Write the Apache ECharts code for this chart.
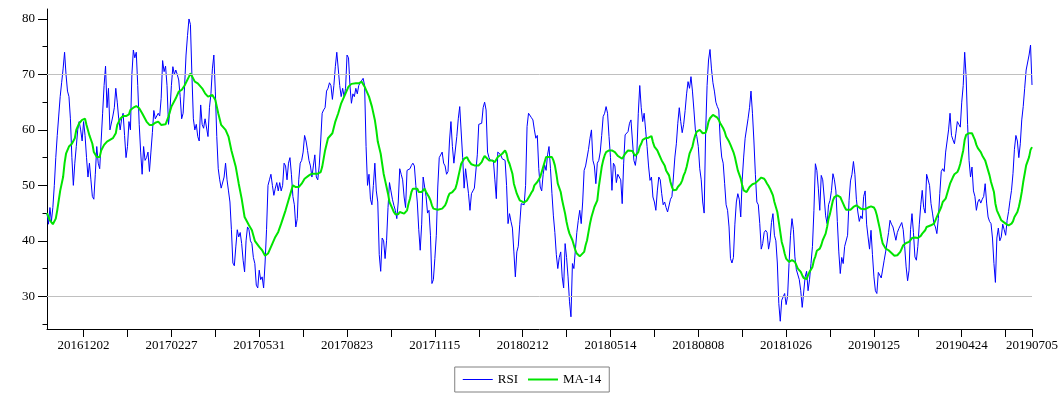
<!DOCTYPE html>
<html><head><meta charset="utf-8">
<script src="https://cdn.jsdelivr.net/npm/echarts@6/dist/echarts.min.js"></script>
<style>html,body{margin:0;padding:0;background:#fff}#c{width:1064px;height:400px}</style>
</head><body><div id="c"></div>
<script>
// RSI daily values, index 0..673
const rsi = [
45,43,46,43.5,46,50,55,59,62.5,66, 68.5,71,74,70,67,66,62,55,50,54, 57,60,61.5,60,58,61.5,59,55,51.5,54, 51,48,47.5,52,57,54,53,58,63,68, 71.5,64,67.5,60,60,62.5,64,67.5,65,62, 60,62,63,59,55,57,61.5,60,70,74.4, 73,74,68,61,56,52,57,54.5,55,56, 52.5,56,59.5,63.5,62,
62,63,62.5,65.7,72.5,70.5,71.5,68,61,63.5, 68,71.4,70,70.8,70,69,66,62,63,67.8, 73.5,77,80,79,70,62,60,61,58.8,58, 64.5,61,60.3,62,62,58.8,64,66.5,71,73.5, 67,58.8,53,51,49.5,49.5,51.5,54,51,49, 47,42,36,35.5,38.9,42,40.7,41.5,39.5,36.5, 34.4,40,42.5,42,40,39.5,37,35.9,32,31.5, 34.7,33,33.5,31.5,36,
42,50,51,52,50,48.2,49.5,50.5,49,50.5, 49,50,54,53.5,51,54,55,52,48,46.5, 42.5,44,51,54,54.5,56,59,58,56.3,54.5, 53.5,51.5,53.5,55.5,51.5,51,53.5,58,63,63.6, 64,67,67.5,68.5,68,65.5,68,71.4,74,74, 68,66,67.5,66,67.5,73.5,73,68,64.8,66.5, 66,67.5,66.5,68,68.5,68.5,69.3,68,57,50, 52,47.5,46.5,50,54,
49,47,37.5,34.5,40.5,40,36.8,40,46,50.5, 49,47.5,46.4,45.5,44,47,53,52,51,47.9, 46,52.7,53,53,53.6,54,53.5,50,47,42, 38.3,43,51.5,51.5,48,45,45.5,41,32.3,33, 36.8,41,49.7,55,55,56,54,53.5,52,52.5, 58,61.5,57,54,54,58.8,62,64.2,64.5,55, 49.5,53,53,48.5,45.5,48.5,49,49.5,49.7,55.5, 61,61.2,61.2,64,65,
63.6,56,55,54.5,54.8,54.5,51,47.6,56,56, 55.5,54.8,54.5,54.5,50,43.1,44.9,43.5,42.3,38, 33.5,38,39,43,46.7,47,46.5,50,60.6,63, 63.3,62.2,61.8,60,58.5,59,53,49.7,49,52, 53.7,52.7,55.5,57,53,48.5,44.5,41.5,37.5,35, 37,38,33.5,31.5,39.5,37,33.5,29,26.3,35.9, 35,38.3,41.5,43.7,45.5,43.1,47,52.7,53.5,53.7, 56.5,58.5,60,54.5,53.5,
50.3,54,54.5,56,59,62.4,63,64.2,63,58.8, 55,49.1,54,53.5,50.5,52,52,51,46.7,54, 59.1,58.8,59.7,61.2,61.8,58,54.5,53.6,55.7,63, 68,64,61.5,63,60,57,53.5,50.9,51.5,47.9, 47,45.5,49,51.5,51,48.5,46.5,47,46,45.2, 45.5,47.5,48,51.5,55.1,57.5,61.2,64,61.5,59.5, 61,63.5,66.5,68.7,67.5,69.6,67,63.6,60,58.8, 57,53,51,47,45,
59.4,68,72.6,74.5,71,68.5,67,65,64.2,63.6, 58,55.1,54,50.3,46.5,45.5,42.5,36.8,36,37, 43,47,48.5,47.5,44.3,51,55.1,58.5,58.8,62, 64,67,63,58,52,47,46.5,43.1,38.5,39.5, 41.5,41.9,41.5,38.5,40,43.3,44.9,41,40,36, 28.7,25.5,29.3,29,30.5,28.5,30,35.9,41,44, 42,37.1,34.8,35,33,31,28,28,33.5,34.5, 31,33,35.9,39,45.5,
53.9,52.7,49.5,45.5,51.8,51,47.9,44.5,43.1,46.5, 47.3,49.1,52.1,51,49,43.5,38,34.1,37,35.9, 39,39,41,47.3,50.8,52,54.3,52,47.5,45.2, 43.5,44.5,44,48,49,43,40.7,38.5,41.9,37.5, 33.5,31,30.5,34.3,34,33.3,33.5,36.5,38,38.3, 41.5,43.7,43,42.5,42.5,40.1,41.5,42.2,42.5,43.3, 42,39,35.3,32.8,34.7,42,44.9,41.5,37.1,36.5, 39,43,46.5,49.1,46,
45,52,52,50,46.7,45,43.1,42.5,41.3,44, 48.5,52.5,53,52.5,56,58,60,63,59,58.2, 57.5,59.4,61.5,61,60.5,65,68,74,69.6,61, 54.5,51.5,53.3,49,48,45.5,47,47.5,46.8,47.5, 48,50.3,46.8,44.3,43.5,43.1,40.5,35.9,32.5,40.5, 42.3,40,40.7,43,42,41,43.7,45.3,47.3,49.1, 52.1,56.5,59,58,55,57.5,61.8,64.2,67.5,70.8, 71,73.5,75.3,68.1
];
// MA-14 readings as [index, value]
const ma14 = [
[0,45],[2,43.7],[4,43],[6,44],[7,45.5],[9,49],[11,51.5],[12,54],[13,55.7],[15,57],[17,57.5],[19,58.5],[20,60],[22,61.2],[24,61.8],[26,62],[27,60.9],[29,59],[31,57.5],[32,56],[34,55.1],[36,55.1],[37,56.3],[39,57.3],[41,57.9],[43,58.2],[45,58.5],[47,59.4],[48,60.9],[50,62],[52,62.5],[54,62.5],[56,62.8],[57,63.6],[59,64],[61,64.3],[63,63.9],[65,63],[67,62],[68,61.5],[70,60.9],[72,60.9],[74,61.3],
[76,61.5],[78,60.9],[81,61],[83,62.4],[85,64.2],[88,65.7],[90,66.9],[92,67.2],[94,68],[97,69.6],[98,70.2],[99,69.9],[101,68.7],[103,68.4],[106,67.5],[108,66.6],[110,66],[113,66.3],[115,65.4],[117,63],[119,60.9],[122,60],[124,58.8],[126,56.3],[129,53.3],[131,50.3],[133,47.6],[135,44.3],[138,42.8],[140,41.9],[142,40],[145,38.9],[147,38.3],[149,37.3],
[150,37],[151,37.7],[154,39.5],[156,40.7],[158,41.6],[160,43.1],[163,45.5],[165,47.3],[167,49.1],[168,50],[170,49.7],[172,49.7],[174,50.3],[176,51.2],[179,51.8],[181,52.1],[183,52.1],[185,52.1],[187,52.4],[188,53.3],[190,56.3],[192,58.5],[195,59.4],[197,61.5],[199,63],[201,64.8],[204,66.6],[206,67.8],[208,68.3],[211,68.4],[213,68.4],[215,68.7],[216,68.5],[217,67.8],[220,66],[222,64.2],[224,61.8],
[225,60],[226,57.9],[228,55.7],[229,53.9],[230,52.1],[231,50.9],[232,49.7],[233,48.5],[234,47],[236,45.8],[237,45.2],[238,44.8],[239,44.6],[240,44.8],[241,45.2],[242,45.2],[244,44.9],[245,44.9],[246,45.5],[247,46.7],[248,47.6],[249,48.8],[250,49.4],[251,49.7],[253,49.4],[254,48.8],[255,48.5],[256,48.8],[257,49.1],[258,49.4],[259,48.8],[261,47.9],[262,47.3],[263,46.4],[264,45.8],[265,45.5],[267,45.6],[270,45.8],[272,46.4],[273,47],[274,47.9],[275,48.5],[277,48.8],[278,49.1],[279,49.4],[280,50.3],[281,51.5],[282,52.7],[283,53.9],[285,54.8],[286,55.1],[287,55.1],[288,54.5],[289,54.2],[290,53.8],[292,53.6],[295,53.6],[296,53.9],[297,54.2],[298,54.8],[299,55.3],
[300,55.4],[302,54.5],[304,54.5],[306,54.2],[308,55.1],[311,55.7],[313,56.3],[314,55.7],[315,54.5],[316,53.9],[318,52.1],[319,50.3],[320,49.4],[321,48.5],[322,47.9],[323,47.3],[324,47],[326,46.9],[327,47],[328,47.3],[329,47.6],[330,48.2],[331,48.7],[332,49.1],[333,50],[335,50.6],[336,50.9],[337,51.5],[338,52.4],[339,53.3],[340,54.2],[341,55.1],[343,55.1],[344,55.3],[345,55.1],[346,54.5],[347,53.6],[348,52.1],[349,50.3],[351,48.8],[352,47.3],[353,46.1],[354,44.9],[355,43.4],[356,42.2],[357,41.3],[359,40.1],[360,39.2],[361,38.3],[362,37.7],[363,37.4],[364,37.2],[365,37.4],[367,38],[368,39.2],[369,40.1],[370,41.6],[371,43.1],[372,44.3],[373,45.2],[374,46.1],
[376,47.3],[377,49.7],[378,51.5],[379,53.3],[380,54.5],[381,55.4],[382,56],[384,56.3],[386,56.3],[388,56],[389,55.7],[390,55.3],[393,54.8],[394,55.1],[395,55.7],[396,56],[397,56.3],[398,56.4],[400,56.2],[401,55.7],[402,55.3],[403,55.1],[404,56],[405,57],[406,57.5],[407,58.2],[409,58.5],[411,58.6],[412,58.8],[413,58.9],[414,57.8],[415,57],[417,56.3],[418,55.7],[419,55.1],[420,54.5],[421,54.2],[422,53.6],[423,52.7],[425,51.8],[426,50.6],[427,49.7],[428,49.1],[429,49.1],[430,49.2],[431,49.7],[433,50.3],[434,50.9],[435,51.8],[436,52.4],[437,53.3],[438,54.5],[439,55.7],[441,57],[442,58.2],[443,59.1],[444,59.7],[445,60],[446,60],[447,59.7],[448,59.4],
[450,59.5],[451,60.3],[452,61.5],[453,62.1],[454,62.4],[455,62.7],[456,62.6],[458,62.2],[459,61.8],[460,61.2],[461,60.9],[462,60.3],[463,59.7],[464,58.8],[466,57.9],[467,57.3],[468,57],[469,56],[470,55.1],[471,53.9],[472,52.7],[474,51.2],[475,50],[476,49.1],[477,48.8],[478,48.8],[479,49.1],[480,49.7],[482,50.2],[483,50.3],[484,50.4],[485,50.6],[486,50.9],[487,51.2],[488,51.4],[490,51.2],[491,50.8],[492,50.3],[493,49.9],[494,49.4],[495,48.8],[496,48.2],[497,47],[499,45.2],[500,43.4],[501,41.6],[502,39.8],[503,38.9],[504,37.7],[505,36.8],[507,36.2],[508,36.3],[509,36.5],[510,36.4],[511,36.2],[512,35.6],[513,35],[515,34.4],[516,33.8],[517,33.3],[518,33],[519,33.1],[520,33.8],[521,34.4],[523,35.3],[524,36.5],
[525,37.2],[526,38.2],[527,38.3],[528,38.6],[529,39.2],[530,40.1],[532,41.3],[533,42.5],[534,44],[535,44.9],[536,46.1],[537,47.3],[538,47.9],[540,48.2],[541,48.2],[542,47.9],[543,47.3],[544,46.7],[545,46.1],[546,45.6],[549,45.6],[550,45.8],[551,46.1],[552,46.4],[553,46.4],[554,46.1],[556,45.8],[557,45.6],[559,45.7],[560,45.8],[561,46],[562,46.2],[563,46.2],[565,46],[566,45.5],[567,44.6],[568,43.4],[569,42.2],[570,40.7],[571,39.5],[573,38.6],[574,38.4],[575,38.3],[576,38.2],[577,37.8],[578,37.5],[579,37.3],[581,37.4],[582,37.7],[583,38],[584,38.6],[585,39.2],[586,39.5],[587,39.6],[589,39.8],[590,40.1],[591,40.5],[592,40.7],[593,40.6],[594,40.4],[595,40.5],[597,40.9],[598,41.3],[599,41.6],
[600,41.9],[601,42.5],[602,42.8],[604,42.8],[606,43.1],[607,43.7],[608,44.3],[609,44.9],[610,45.5],[611,46.1],[612,47],[614,47.6],[615,48.5],[616,49.4],[617,50.3],[618,50.9],[619,51.5],[620,52],[622,52.4],[623,53],[624,53.9],[625,55.1],[626,56.3],[627,58.2],[628,59.1],[630,59.4],[631,59.5],[632,59.4],[633,58.8],[634,58.2],[635,57.3],[636,56.7],[638,56],[639,55.4],[640,55.1],[641,54.5],[642,53.6],[643,52.7],[644,51.8],[645,50.6],[647,48.8],[648,46.7],[649,45.5],[650,44.9],[651,44.3],[652,43.7],[653,43.4],[655,43.1],[656,42.9],[657,42.8],[658,42.8],[659,43.1],[660,43.5],[661,44.3],[663,45.2],[664,46.1],[665,47.3],[666,48.8],[667,50.6],[668,52.1],[669,53.6],[671,55.1],[672,56.4],[673,56.9]
];
const tickLabels = ['20161202','20170227','20170531','20170823','20171115','20180212','20180514','20180808','20181026','20190125','20190424','20190705'];
const labelIdx = [25,85,145,205,265,325,385,445,505,565,625,673];
const minorTickIdx = [55,115,175,235,295,355,415,475,535,595,655];
const yLabelValues = [30,40,50,60,70,80];
const yMinorValues = [25,35,45,55,65,75];
const refLevels = [30,70];

const categories = rsi.map((_, i) => String(i));
const labelMap = new Map(labelIdx.map((k, j) => [k, tickLabels[j]]));
const tickSet = new Set(labelIdx.concat(minorTickIdx));
const FONT = 'Liberation Serif';
const Y_MIN = 24.1, Y_MAX = 81.8;

const chart = echarts.init(document.getElementById('c'), null, {renderer: 'canvas'});
chart.setOption({
  animation: false,
  backgroundColor: '#fff',
  grid: {left: 47, right: 32, top: 9, bottom: 71},
  legend: {
    data: [
      {name: 'RSI', icon: 'path://M0,0h30v1h-30z'},
      {name: 'MA-14', icon: 'path://M0,0h30v2h-30z'}
    ],
    symbolKeepAspect: true,
    bottom: 8, left: 'center',
    borderColor: '#808080', borderWidth: 1,
    padding: [6, 8], itemGap: 10, itemWidth: 30, itemHeight: 14,
    textStyle: {fontFamily: FONT, fontSize: 13, color: '#000'}
  },
  xAxis: {
    type: 'category', data: categories, boundaryGap: false,
    axisLine: {lineStyle: {color: '#000', width: 1}},
    axisTick: {length: 8, lineStyle: {color: '#000'}, interval: (i) => tickSet.has(i)},
    axisLabel: {
      interval: (i) => labelMap.has(i),
      formatter: (v) => labelMap.get(Number(v)) || '',
      fontFamily: FONT, fontSize: 13, color: '#000', margin: 10, hideOverlap: false
    },
    splitLine: {show: false}
  },
  yAxis: [
    {
      type: 'value', min: Y_MIN, max: Y_MAX, position: 'left',
      axisLine: {show: true, lineStyle: {color: '#000', width: 1}},
      axisTick: {show: true, length: 9, lineStyle: {color: '#000'}, customValues: yLabelValues},
      axisLabel: {customValues: yLabelValues, fontFamily: FONT, fontSize: 13, color: '#000', margin: 12},
      splitLine: {show: false}
    },
    {
      type: 'value', min: Y_MIN, max: Y_MAX, position: 'left',
      axisLine: {show: false},
      axisTick: {show: true, length: 4.5, lineStyle: {color: '#000'}, customValues: yMinorValues},
      axisLabel: {show: false},
      splitLine: {show: false}
    }
  ],
  series: [
    {
      name: 'ref', type: 'line', data: [], z: 1, silent: true,
      markLine: {
        silent: true, symbol: 'none', label: {show: false},
        lineStyle: {color: '#c0c0c0', type: 'solid', width: 1},
        data: refLevels.map(v => ({yAxis: v}))
      }
    },
    {
      name: 'RSI', type: 'line', data: rsi, symbol: 'none', z: 3,
      color: '#0000ff', lineStyle: {color: '#0000ff', width: 1}
    },
    {
      name: 'MA-14', type: 'line', data: ma14, symbol: 'none', z: 4,
      color: '#00e400', lineStyle: {color: '#00e400', width: 2}
    }
  ]
});
</script>
</body></html>
